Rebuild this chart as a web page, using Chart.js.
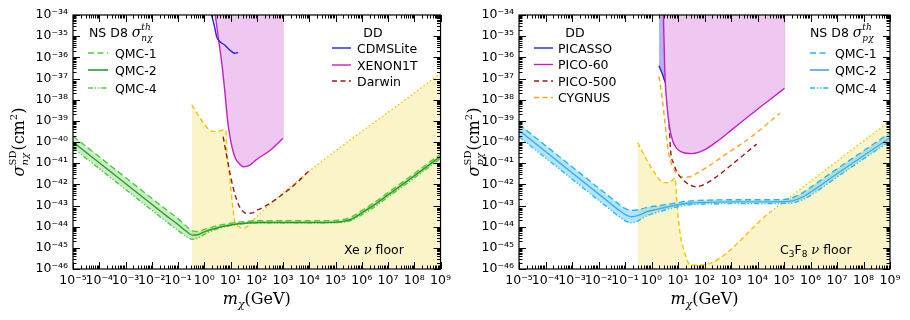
<!DOCTYPE html>
<html lang="en">
<head>
<meta charset="UTF-8">
<title>SD cross sections</title>
<script src="https://cdn.jsdelivr.net/npm/chart.js@4.4.1/dist/chart.umd.min.js"></script>
<style>
  body { margin: 0; background: #fff; }
  .wrap { position: relative; width: 910px; height: 320px; }
  canvas { position: absolute; top: 0; }
  #left { left: 0; }
  #right { left: 455px; }
</style>
</head>
<body>
<div class="wrap">
  <canvas id="left" width="455" height="320"></canvas>
  <canvas id="right" width="455" height="320"></canvas>
</div>
<script>
// all values are log10 exponents
const xTickExps = [-5, -4, -3, -2, -1, 0, 1, 2, 3, 4, 5, 6, 7, 8, 9];
const yTickExps = [-46, -45, -44, -43, -42, -41, -40, -39, -38, -37, -36, -35, -34];

// left panel: neutron
const nQmcLogM  = [-5, -4, -3, -2, -1.5, -1, -0.7, -0.45, -0.25, 0, 0.5, 1, 1.5, 2, 3, 4, 5, 5.2, 5.6, 6, 6.5, 7, 8, 9];
const nQmc1LogS = [-39.72, -40.7, -41.68, -42.66, -43.15, -43.62, -43.96, -44.2, -44.23, -44.13, -43.95, -43.84, -43.76, -43.72, -43.72, -43.72, -43.71, -43.68, -43.55, -43.24, -42.84, -42.39, -41.49, -40.57];
const nQmc2LogS = [-40.0, -40.98, -41.96, -42.94, -43.43, -43.9, -44.2, -44.4, -44.38, -44.25, -44.05, -43.92, -43.84, -43.8, -43.8, -43.8, -43.79, -43.77, -43.65, -43.35, -42.95, -42.5, -41.6, -40.68];
const nQmc4LogS = [-40.28, -41.26, -42.24, -43.22, -43.71, -44.18, -44.45, -44.6, -44.55, -44.36, -44.1, -43.95, -43.86, -43.82, -43.82, -43.82, -43.81, -43.8, -43.7, -43.44, -43.05, -42.6, -41.7, -40.78];

const xeFloorLogM = [-0.48, -0.3, -0.11, 0.16, 0.46, 0.72, 0.82, 0.86, 0.98, 1.1, 1.17, 1.32, 1.47, 1.66, 1.89, 9];
const xeFloorLogS = [-38.25, -38.6, -38.96, -39.39, -39.51, -39.43, -39.45, -40.4, -41.8, -43.2, -43.8, -44.0, -44.08, -43.97, -43.65, -36.74];

const xenonLogM = [0.42, 0.55, 0.68, 0.79, 0.9, 1.0, 1.1, 1.2, 1.35, 1.5, 1.7, 2.0, 2.5, 3.0];
const xenonLogS = [-34, -35.2, -36.4, -37.7, -39.1, -39.9, -40.45, -40.8, -41.05, -41.17, -41.12, -40.82, -40.4, -39.82];

const cdmsLogM = [0.28, 0.4, 0.47, 0.6, 0.78, 0.97, 1.16, 1.29];
const cdmsLogS = [-34, -34.6, -35.02, -35.26, -35.42, -35.65, -35.81, -35.78];

const darwinLogM = [0.72, 0.8, 0.9, 1.0, 1.1, 1.2, 1.3, 1.45, 1.6, 1.8, 2.05, 2.3, 3.04, 3.5, 4.0];
const darwinLogS = [-39.75, -40.3, -40.95, -41.6, -42.15, -42.6, -42.95, -43.25, -43.37, -43.36, -43.2, -43.05, -42.42, -41.95, -41.35];

// right panel: proton
const pQmcLogM  = [-5, -4, -3, -2, -1.5, -1.2, -0.95, -0.75, -0.5, -0.2, 0.2, 0.6, 1.1, 1.5, 2, 3, 4, 5, 5.3, 5.7, 6.2, 7, 8, 9];
const pQmc1LogS = [-39.17, -40.17, -41.17, -42.17, -42.67, -42.97, -43.17, -43.23, -43.2, -43.1, -43.02, -42.95, -42.84, -42.78, -42.75, -42.73, -42.73, -42.72, -42.64, -42.4, -41.97, -41.27, -40.42, -39.57];
const pQmc2LogS = [-39.45, -40.45, -41.45, -42.45, -42.95, -43.25, -43.45, -43.53, -43.47, -43.3, -43.18, -43.07, -42.94, -42.88, -42.85, -42.83, -42.83, -42.82, -42.78, -42.6, -42.2, -41.5, -40.65, -39.8];
const pQmc4LogS = [-39.75, -40.75, -41.75, -42.75, -43.25, -43.55, -43.75, -43.82, -43.72, -43.5, -43.33, -43.18, -43.03, -42.96, -42.93, -42.91, -42.91, -42.9, -42.88, -42.73, -42.36, -41.66, -40.8, -39.95];

const fFloorLogM = [-0.52, -0.35, -0.18, 0.13, 0.45, 0.7, 0.89, 0.97, 1.08, 1.3, 1.45, 1.85, 4.5, 9];
const fFloorLogS = [-40.03, -40.45, -40.85, -41.48, -41.92, -41.9, -41.71, -43.06, -44.31, -45.42, -45.8, -45.82, -43.29, -39.0];

const pico60LogM = [0.45, 0.5, 0.58, 0.68, 0.8, 0.95, 1.15, 1.52, 1.8, 2.1, 2.5, 3.0, 3.5, 4.0, 4.5, 5.02];
const pico60LogS = [-34, -36.6, -38.2, -39.3, -39.95, -40.3, -40.48, -40.55, -40.48, -40.3, -39.95, -39.45, -38.95, -38.45, -37.97, -37.46];

const picassoLogM = [0.28, 0.4, 0.51, 0.65, 0.76, 0.9, 1.08, 1.3, 1.71, 2.0, 2.33, 3.0, 3.4, 3.72];
const picassoLogS = [-36.4, -36.75, -37.15, -37.45, -37.62, -37.78, -37.88, -37.92, -37.78, -37.58, -37.31, -36.55, -36.15, -35.85];

const pico500LogM = [0.47, 0.55, 0.6, 0.67, 0.72, 0.85, 0.95, 1.1, 1.26, 1.45, 1.64, 1.9, 2.33, 3.0, 3.53, 3.97];
const pico500LogS = [-35.18, -36.6, -37.7, -39.28, -40.4, -41.05, -41.4, -41.67, -41.87, -42.03, -42.11, -42.05, -41.75, -41.1, -40.55, -40.1];

const cygnusLogM = [0.28, 0.4, 0.5, 0.6, 0.7, 0.85, 1.0, 1.2, 1.45, 1.71, 2.2, 2.77, 3.72, 4.85];
const cygnusLogS = [-36.9, -37.9, -39.0, -40.1, -40.8, -41.3, -41.55, -41.66, -41.64, -41.48, -41.1, -40.61, -39.8, -38.64];

// ---- helpers ----
const SANS = 'DejaVu Sans', SERIF = 'DejaVu Serif';
const LEG_FONT = '12.5px ' + SANS;
const SUP = {'-': '⁻', '0': '⁰', '1': '¹', '2': '²', '3': '³', '4': '⁴', '5': '⁵', '6': '⁶', '7': '⁷', '8': '⁸', '9': '⁹'};
const TOP_EXP = yTickExps[yTickExps.length - 1];

function pts(lm, ls) {
  return lm.map((m, i) => ({x: Math.pow(10, m), y: Math.pow(10, ls[i])}));
}
// vertical closing edge of an exclusion region (last point up to the top of the axis)
function edge(lm, ls) {
  const n = lm.length - 1;
  return pts([lm[n], lm[n]], [ls[n], TOP_EXP]);
}
function pow10Label(v) {
  const e = Math.round(Math.log10(v));
  return '10' + String(e).split('').map(c => SUP[c]).join('');
}

function runsWidth(ctx, runs) {
  let w = 0, i = 0;
  while (i < runs.length) {
    ctx.font = runs[i].f;
    let w1 = ctx.measureText(runs[i].t).width;
    if (runs[i].stack && runs[i + 1]) {
      ctx.font = runs[i + 1].f;
      w1 = Math.max(w1, ctx.measureText(runs[i + 1].t).width);
      i += 2;
    } else i++;
    w += w1;
  }
  return w;
}
function drawRuns(ctx, x, y, runs) {
  ctx.textAlign = 'left';
  ctx.textBaseline = 'alphabetic';
  let i = 0;
  while (i < runs.length) {
    const r = runs[i];
    ctx.font = r.f;
    ctx.fillText(r.t, x, y + (r.dy || 0));
    let w1 = ctx.measureText(r.t).width;
    if (r.stack && runs[i + 1]) {
      const s = runs[i + 1];
      ctx.font = s.f;
      ctx.fillText(s.t, x, y + (s.dy || 0));
      w1 = Math.max(w1, ctx.measureText(s.t).width);
      i += 2;
    } else i++;
    x += w1;
  }
}
function legendLine(ctx, ds, x1, x2, y) {
  ctx.save();
  ctx.strokeStyle = ds.borderColor;
  ctx.lineWidth = ds.borderWidth || 1.4;
  ctx.setLineDash(ds.borderDash || []);
  ctx.beginPath();
  ctx.moveTo(x1, y);
  ctx.lineTo(x2, y);
  ctx.stroke();
  ctx.restore();
}

function nsTitle(sub) {
  return [
    {t: 'NS D8 ', f: LEG_FONT},
    {t: 'σ', f: 'italic 14px ' + SERIF},
    {t: 'th', f: 'italic 9px ' + SERIF, dy: -7, stack: true},
    {t: sub + 'χ', f: 'italic 9px ' + SERIF, dy: 4}
  ];
}

// frame + inward ticks on all four sides
const frameTicks = {
  id: 'frameTicks',
  afterDatasetsDraw(chart) {
    const ctx = chart.ctx, a = chart.chartArea;
    const xs = chart.scales.x, ys = chart.scales.y;
    ctx.save();
    ctx.strokeStyle = '#000';
    ctx.lineWidth = 1;
    ctx.beginPath();
    const e0 = Math.round(Math.log10(xs.min)), e1 = Math.round(Math.log10(xs.max));
    for (let e = e0; e <= e1; e++) {
      for (let k = 1; k <= 9; k++) {
        if (e === e1 && k > 1) break;
        const p = Math.round(xs.getPixelForValue(k * Math.pow(10, e))) + 0.5;
        const len = k === 1 ? 7 : 3.5;
        ctx.moveTo(p, a.bottom); ctx.lineTo(p, a.bottom - len);
        ctx.moveTo(p, a.top); ctx.lineTo(p, a.top + len);
      }
    }
    const f0 = Math.round(Math.log10(ys.min)), f1 = Math.round(Math.log10(ys.max));
    for (let e = f0; e <= f1; e++) {
      for (let k = 1; k <= 9; k++) {
        if (e === f1 && k > 1) break;
        const p = Math.round(ys.getPixelForValue(k * Math.pow(10, e))) + 0.5;
        const len = k === 1 ? 7 : 3.5;
        ctx.moveTo(a.left, p); ctx.lineTo(a.left + len, p);
        ctx.moveTo(a.right, p); ctx.lineTo(a.right - len, p);
      }
    }
    ctx.stroke();
    ctx.lineWidth = 1.2;
    ctx.strokeRect(a.left, a.top, a.right - a.left, a.bottom - a.top);
    ctx.restore();
  }
};

function decor(spec) {
  return {
    id: 'decor',
    afterDraw(chart) {
      const ctx = chart.ctx, a = chart.chartArea, ds = chart.data.datasets;
      ctx.save();
      ctx.fillStyle = '#000';
      // y axis title
      const yr = [
        {t: 'σ', f: 'italic 16px ' + SERIF},
        {t: 'SD', f: '10px ' + SERIF, dy: -8, stack: true},
        {t: spec.sub + 'χ', f: 'italic 10px ' + SERIF, dy: 4},
        {t: '(cm', f: '16px ' + SERIF},
        {t: '2', f: '10px ' + SERIF, dy: -7},
        {t: ')', f: '16px ' + SERIF}
      ];
      ctx.save();
      ctx.translate(24, (a.top + a.bottom) / 2);
      ctx.rotate(-Math.PI / 2);
      drawRuns(ctx, -runsWidth(ctx, yr) / 2, 0, yr);
      ctx.restore();
      // x axis title
      const xr = [
        {t: 'm', f: 'italic 16px ' + SERIF},
        {t: 'χ', f: 'italic 11px ' + SERIF, dy: 4},
        {t: '(GeV)', f: '16px ' + SERIF}
      ];
      drawRuns(ctx, (a.left + a.right) / 2 - runsWidth(ctx, xr) / 2, 304, xr);
      // legend titles
      const ddRuns = [{t: 'DD', f: LEG_FONT}];
      drawRuns(ctx, spec.ddX - runsWidth(ctx, ddRuns) / 2, 36.5, ddRuns);
      drawRuns(ctx, spec.nsX, 36.5, nsTitle(spec.sub));
      // legend entries
      spec.items.forEach(it => {
        legendLine(ctx, ds[it.ds], it.x1, it.x2, it.y);
        drawRuns(ctx, it.tx, it.y + 4.5, [{t: ds[it.ds].label, f: LEG_FONT}]);
      });
      // floor label
      drawRuns(ctx, spec.floorX, 254, spec.floorRuns);
      ctx.restore();
    }
  };
}

function scales(yWidth) {
  return {
    x: {
      type: 'logarithmic', min: 1e-5, max: 1e9,
      grid: {display: false, drawTicks: false}, border: {display: false},
      ticks: {autoSkip: false, maxRotation: 0, padding: 4, color: '#000',
              font: {family: SANS, size: 12.5}, callback: v => pow10Label(v)},
      afterBuildTicks: s => { s.ticks = xTickExps.map(e => ({value: Number('1e' + e)})); },
      afterFit: s => { s.height = 51; }
    },
    y: {
      type: 'logarithmic', min: 1e-46, max: 1e-34,
      grid: {display: false, drawTicks: false}, border: {display: false},
      ticks: {autoSkip: false, padding: 5, color: '#000',
              font: {family: SANS, size: 12.5}, callback: v => pow10Label(v)},
      afterBuildTicks: s => { s.ticks = yTickExps.map(e => ({value: Number('1e' + e)})); },
      afterFit: s => { s.width = yWidth; }
    }
  };
}

function baseOptions(yWidth, padRight) {
  return {
    responsive: false,
    animation: false,
    layout: {padding: {top: 15, right: padRight, left: 0, bottom: 0}},
    plugins: {legend: {display: false}, tooltip: {enabled: false}},
    elements: {point: {radius: 0}, line: {borderWidth: 1.4, cubicInterpolationMode: 'monotone'}},
    scales: scales(yWidth)
  };
}

const YELLOW_FILL = '#fcf4c9', YELLOW_LINE = '#f5c400';
const PINK_FILL = '#efc8f1', MAGENTA = '#c61ec6', EDGE = 'rgba(198,30,198,0.35)';

// ---- left panel ----
new Chart(document.getElementById('left'), {
  type: 'line',
  data: {
    datasets: [
      {label: 'CDMSLite', data: pts(cdmsLogM, cdmsLogS), borderColor: '#2020ee', fill: false},
      {label: 'XENON1T', data: pts(xenonLogM, xenonLogS), borderColor: MAGENTA, backgroundColor: PINK_FILL, fill: 'end'},
      {label: 'XENON1T edge', data: edge(xenonLogM, xenonLogS), borderColor: EDGE, borderWidth: 1, fill: false},
      {label: 'Darwin', data: pts(darwinLogM, darwinLogS), borderColor: '#a01818', borderDash: [5, 3.5], fill: false},
      {label: 'QMC-1', data: pts(nQmcLogM, nQmc1LogS), borderColor: '#4ccc3c', borderDash: [6, 3.5], backgroundColor: 'rgba(90,200,80,0.32)', fill: '+2'},
      {label: 'QMC-2', data: pts(nQmcLogM, nQmc2LogS), borderColor: '#138a13', fill: false},
      {label: 'QMC-4', data: pts(nQmcLogM, nQmc4LogS), borderColor: '#4ccc3c', borderDash: [5, 2, 1.2, 2, 1.2, 2], fill: false},
      {label: 'Xe floor line', data: pts(xeFloorLogM, xeFloorLogS), borderColor: YELLOW_LINE, borderDash: [5, 3], fill: false,
       segment: {borderDash: c => c.p0DataIndex >= 14 ? [1.5, 2.5] : undefined}},
      {label: 'Xe floor', data: pts(xeFloorLogM, xeFloorLogS), borderWidth: 0, borderColor: 'rgba(0,0,0,0)', backgroundColor: YELLOW_FILL, fill: 'start'}
    ]
  },
  options: baseOptions(73, 10),
  plugins: [frameTicks, decor({
    sub: 'n', ddX: 373, nsX: 89, floorX: 344,
    floorRuns: [{t: 'Xe ', f: LEG_FONT}, {t: 'ν', f: 'italic 13px ' + SERIF}, {t: ' floor', f: LEG_FONT}],
    items: [
      {ds: 4, x1: 88, x2: 108, tx: 115, y: 53},
      {ds: 5, x1: 88, x2: 108, tx: 115, y: 70},
      {ds: 6, x1: 88, x2: 108, tx: 115, y: 88},
      {ds: 0, x1: 332, x2: 351, tx: 357, y: 48},
      {ds: 1, x1: 332, x2: 351, tx: 357, y: 65},
      {ds: 3, x1: 332, x2: 351, tx: 357, y: 81}
    ]
  })]
});

// ---- right panel ----
new Chart(document.getElementById('right'), {
  type: 'line',
  data: {
    datasets: [
      {label: 'PICO-60', data: pts(pico60LogM, pico60LogS), borderColor: MAGENTA, backgroundColor: PINK_FILL, fill: 'end'},
      {label: 'PICO-60 edge', data: edge(pico60LogM, pico60LogS), borderColor: EDGE, borderWidth: 1, fill: false},
      {label: 'PICASSO', data: pts(picassoLogM, picassoLogS), borderColor: '#2020ee', backgroundColor: '#b3b5f2', fill: 'end'},
      {label: 'PICO-500', data: pts(pico500LogM, pico500LogS), borderColor: '#a01818', borderDash: [5, 3.5], fill: false},
      {label: 'CYGNUS', data: pts(cygnusLogM, cygnusLogS), borderColor: '#ffa31a', borderDash: [5, 3.5], fill: false},
      {label: 'QMC-1', data: pts(pQmcLogM, pQmc1LogS), borderColor: '#22b8ee', borderDash: [6, 3.5], backgroundColor: 'rgba(80,200,240,0.45)', fill: '+2'},
      {label: 'QMC-2', data: pts(pQmcLogM, pQmc2LogS), borderColor: '#3d8ff0', fill: false},
      {label: 'QMC-4', data: pts(pQmcLogM, pQmc4LogS), borderColor: '#22b8ee', borderDash: [5, 2, 1.2, 2, 1.2, 2], fill: false},
      {label: 'C3F8 floor line', data: pts(fFloorLogM, fFloorLogS), borderColor: YELLOW_LINE, borderDash: [5, 3], fill: false,
       segment: {borderDash: c => c.p0DataIndex >= 12 ? [1.5, 2.5] : undefined}},
      {label: 'C3F8 floor', data: pts(fFloorLogM, fFloorLogS), borderWidth: 0, borderColor: 'rgba(0,0,0,0)', backgroundColor: YELLOW_FILL, fill: 'start'}
    ]
  },
  options: baseOptions(64, 20),
  plugins: [frameTicks, decor({
    sub: 'p', ddX: 120, nsX: 355, floorX: 325,
    floorRuns: [
      {t: 'C', f: LEG_FONT}, {t: '3', f: '9px ' + SANS, dy: 3},
      {t: 'F', f: LEG_FONT}, {t: '8', f: '9px ' + SANS, dy: 3},
      {t: ' ', f: LEG_FONT}, {t: 'ν', f: 'italic 13px ' + SERIF}, {t: ' floor', f: LEG_FONT}
    ],
    items: [
      {ds: 2, x1: 79, x2: 98, tx: 103, y: 48},
      {ds: 0, x1: 79, x2: 98, tx: 103, y: 64.5},
      {ds: 3, x1: 79, x2: 98, tx: 103, y: 81},
      {ds: 4, x1: 79, x2: 98, tx: 103, y: 97.5},
      {ds: 5, x1: 355, x2: 374, tx: 380, y: 53},
      {ds: 6, x1: 355, x2: 374, tx: 380, y: 70},
      {ds: 7, x1: 355, x2: 374, tx: 380, y: 88}
    ]
  })]
});
</script>
</body>
</html>
